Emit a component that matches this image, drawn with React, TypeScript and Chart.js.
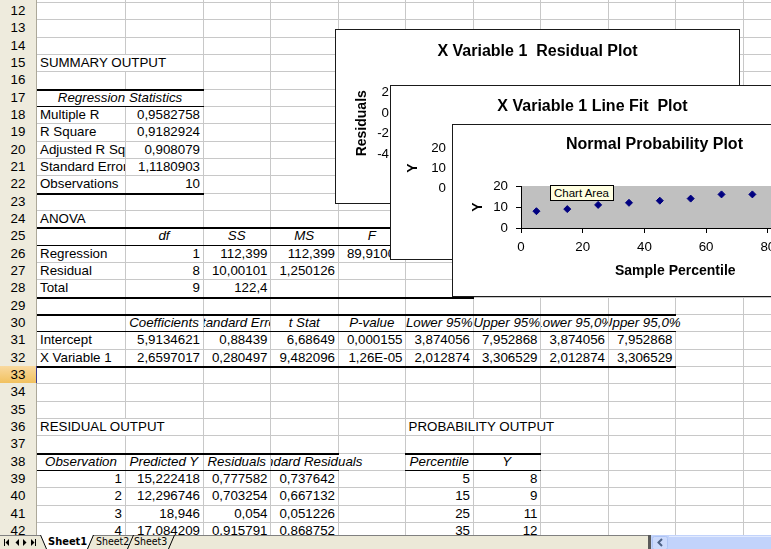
import React, { useEffect, useRef } from "react";
import { Chart, registerables } from "chart.js";

Chart.register(...registerables);

const FONT = "'Liberation Sans', Arial, Helvetica, sans-serif";
const TAB_FONT = "'DejaVu Sans Condensed', 'DejaVu Sans', Verdana, sans-serif";

// ---------------- chart data ----------------
const probPercentile = [5, 15, 25, 35, 45, 55, 65, 75];
const probY = [8, 9, 11, 12, 13, 14, 16, 16];
const observations = [1, 2, 3, 4];
const obsX = [3.5, 2.4, 4.9, 4.2];
const obsY = [16, 13, 19, 18];
const predictedY = [15.222418, 12.296746, 18.946, 17.084209];
const residuals = [0.777582, 0.703254, 0.054, 0.915791];
const stdResiduals = [0.737642, 0.667132, 0.051226, 0.868752];

const residXTicks = [0, 2, 4, 6];
const residYTicks = [-4, -2, 0, 2];
const fitXTicks = [0, 2, 4, 6];
const fitYTicks = [0, 10, 20];
const probXTicks = [0, 20, 40, 60, 80, 100];
const probYTicks = [0, 10, 20];

// ---------------- sheet text ----------------
const regStatLabels = ["Multiple R", "R Square", "Adjusted R Square", "Standard Error", "Observations"];
const regStatValues = ["0,9582758", "0,9182924", "0,908079", "1,1180903", "10"];
const anovaHeaders = ["df", "SS", "MS", "F", "Significance F"];
const anovaRows = [
  ["Regression", "1", "112,399", "112,399", "89,91004", "1,26E-05"],
  ["Residual", "8", "10,00101", "1,250126"],
  ["Total", "9", "122,4"],
];
const coefHeaders = ["Coefficients", "Standard Error", "t Stat", "P-value", "Lower 95%", "Upper 95%", "Lower 95,0%", "Upper 95,0%"];
const coefRows = [
  ["Intercept", "5,9134621", "0,88439", "6,68649", "0,000155", "3,874056", "7,952868", "3,874056", "7,952868"],
  ["X Variable 1", "2,6597017", "0,280497", "9,482096", "1,26E-05", "2,012874", "3,306529", "2,012874", "3,306529"],
];
const residHeaders = ["Observation", "Predicted Y", "Residuals", "Standard Residuals"];
const probHeaders = ["Percentile", "Y"];
const sheetTabs = ["Sheet1", "Sheet2", "Sheet3"];

// ---------------- sheet geometry ----------------
const COLS = [37, 125, 203, 270.5, 338, 405.5, 473, 540.5, 608, 675.5, 743, 810.5];
const NCOL = COLS.length - 1;
const ROW0 = 12;
const ROW_Y0 = 2.5;
const ROW_H = 17.333;
const ACTIVE_ROW = 33;
const GRID = "#C8C8C8";
const rowY = (r: number) => ROW_Y0 + (r - ROW0) * ROW_H;
const px = (v: number) => Math.floor(v);
const fmt = (v: number) => String(v).replace(".", ",");

type Cell = { r: number; c: number; t: string; a: "l" | "r" | "c"; i?: boolean; span?: number };
const cells: Cell[] = [];
const add = (r: number, c: number, t: string, a: "l" | "r" | "c", i?: boolean, span?: number) =>
  cells.push({ r, c, t, a, i, span });

add(15, 0, "SUMMARY OUTPUT", "l");
add(17, 0, "Regression Statistics", "c", true, 2);
regStatLabels.forEach((l, k) => {
  add(18 + k, 0, l, "l");
  add(18 + k, 1, regStatValues[k], "r");
});
add(24, 0, "ANOVA", "l");
anovaHeaders.forEach((h, k) => add(25, 1 + k, h, "c", true));
anovaRows.forEach((row, k) => row.forEach((v, j) => add(26 + k, j, v, j === 0 ? "l" : "r")));
coefHeaders.forEach((h, k) => add(30, 1 + k, h, "c", true));
coefRows.forEach((row, k) => row.forEach((v, j) => add(31 + k, j, v, j === 0 ? "l" : "r")));
add(36, 0, "RESIDUAL OUTPUT", "l");
add(36, 5, "PROBABILITY OUTPUT", "l");
residHeaders.forEach((h, k) => add(38, k, h, "c", true));
probHeaders.forEach((h, k) => add(38, 5 + k, h, "c", true));
observations.forEach((o, k) => {
  add(39 + k, 0, String(o), "r");
  add(39 + k, 1, fmt(predictedY[k]), "r");
  add(39 + k, 2, fmt(residuals[k]), "r");
  add(39 + k, 3, fmt(stdResiduals[k]), "r");
  add(39 + k, 5, String(probPercentile[k]), "r");
  add(39 + k, 6, String(probY[k]), "r");
});

const occ = new Set<string>();
cells.forEach((cl) => {
  for (let k = 0; k < (cl.span || 1); k++) occ.add(`${cl.r},${cl.c + k}`);
});

function clipFor(cl: Cell): [number, number] {
  const c0 = cl.c;
  const c1 = cl.c + (cl.span || 1);
  let L = COLS[c0];
  let R = COLS[c1];
  if (cl.a === "l" || cl.a === "c") {
    let k = c1;
    while (k < NCOL && !occ.has(`${cl.r},${k}`)) k++;
    R = COLS[k];
  }
  if (cl.a === "c") {
    let k = c0 - 1;
    while (k >= 0 && !occ.has(`${cl.r},${k}`)) k--;
    L = COLS[k + 1];
  }
  return [L, R];
}

let mctx: CanvasRenderingContext2D | null = null;
function measure(t: string, italic?: boolean) {
  if (!mctx) mctx = document.createElement("canvas").getContext("2d");
  if (!mctx) return t.length * 7;
  mctx.font = `${italic ? "italic " : ""}13.33px ${FONT}`;
  return mctx.measureText(t).width;
}

const borders = [
  { r: 17, c0: 0, c1: 2, w: 2 }, { r: 18, c0: 0, c1: 2, w: 1 }, { r: 23, c0: 0, c1: 2, w: 2 },
  { r: 25, c0: 0, c1: 6, w: 2 }, { r: 26, c0: 0, c1: 6, w: 1 }, { r: 29, c0: 0, c1: 6, w: 2 },
  { r: 30, c0: 0, c1: 9, w: 2 }, { r: 31, c0: 0, c1: 9, w: 1 }, { r: 33, c0: 0, c1: 9, w: 2 },
  { r: 38, c0: 0, c1: 4, w: 2 }, { r: 39, c0: 0, c1: 4, w: 1 },
  { r: 38, c0: 5, c1: 7, w: 2 }, { r: 39, c0: 5, c1: 7, w: 1 },
];

// ---------------- chart geometry ----------------
type Geo = {
  left: number; top: number; W: number; H: number;
  L: number; T: number; R: number; B: number;
  titleY: number; yTitleX: number; yLabelRight: number; xLabelY: number; xTitleY: number;
};
const geoResid: Geo = { left: 335, top: 29, W: 403, H: 173, L: 66, T: 62.5, R: 383, B: 124, titleY: 22, yTitleX: 26, yLabelRight: 53, xLabelY: 143, xTitleY: 157 };
const geoFit: Geo = { left: 390, top: 85, W: 403, H: 173, L: 68, T: 62, R: 383, B: 102, titleY: 21, yTitleX: 22, yLabelRight: 55, xLabelY: 121, xTitleY: 147 };
const geoProb: Geo = { left: 452, top: 124, W: 403, H: 171, L: 68, T: 61, R: 376.5, B: 103, titleY: 20, yTitleX: 25, yLabelRight: 55, xLabelY: 122, xTitleY: 146 };

const plotAreaFill = {
  id: "plotAreaFill",
  beforeDraw(chart: any) {
    const { ctx, chartArea: a } = chart;
    ctx.save();
    ctx.fillStyle = "#C0C0C0";
    ctx.fillRect(a.left, a.top, a.right - a.left, a.bottom - a.top);
    ctx.restore();
  },
};

function buildConfig(g: Geo, title: string, xTitle: string, yTitle: string, xTicks: number[], yTicks: number[], datasets: any[]): any {
  const titleLH = 16 * 1.2;
  const axisLH = 14 * 1.2;
  const tickLH = 13.33 * 1.2;
  const tickFont = { family: FONT, size: 13.33, lineHeight: 1.2 };
  const axisFont = { family: FONT, size: 14, weight: "bold", lineHeight: 1.2 };
  const grid = { display: true, drawOnChartArea: false, drawTicks: true, tickLength: 5, color: "#000", tickColor: "#000", lineWidth: 1 };
  const border = { display: true, color: "#000", width: 1 };
  const titleTop = g.titleY - titleLH / 2;
  return {
    type: "scatter",
    data: { datasets },
    plugins: [plotAreaFill],
    options: {
      animation: false,
      responsive: false,
      maintainAspectRatio: false,
      events: [],
      layout: { padding: 0 },
      plugins: {
        legend: { display: false },
        tooltip: { enabled: false },
        title: {
          display: true, text: title, color: "#000",
          font: { family: FONT, size: 16, weight: "bold", lineHeight: 1.2 },
          padding: { top: titleTop, bottom: g.T - titleTop - titleLH },
        },
      },
      scales: {
        x: {
          type: "linear", position: "bottom", min: xTicks[0], max: xTicks[xTicks.length - 1],
          ticks: { stepSize: xTicks[1] - xTicks[0], color: "#000", font: tickFont, padding: g.xLabelY - g.B - 5 - tickLH / 2, maxRotation: 0, autoSkip: false },
          grid, border,
          title: { display: true, text: xTitle, color: "#000", font: axisFont, padding: { top: 0, bottom: g.H - g.xTitleY - axisLH / 2 } },
          afterFit: (s: any) => { s.height = g.H - g.B; },
        },
        y: {
          type: "linear", position: "left", min: yTicks[0], max: yTicks[yTicks.length - 1],
          ticks: { stepSize: yTicks[1] - yTicks[0], color: "#000", font: tickFont, padding: g.L - 5 - g.yLabelRight },
          grid, border,
          title: { display: true, text: yTitle, color: "#000", font: axisFont, padding: { top: g.yTitleX - axisLH / 2, bottom: 0 } },
          afterFit: (s: any) => { s.width = g.L; },
        },
        pad: {
          type: "linear", position: "right", display: true,
          grid: { display: false }, border: { display: false }, ticks: { display: false },
          afterFit: (s: any) => { s.width = g.W - g.R; },
        },
      },
    },
  };
}

const navy = "#000080";
const markers = (label: string, xs: number[], ys: number[], color: string, style: string) => ({
  label,
  data: xs.map((x, i) => ({ x, y: ys[i] })),
  pointStyle: style,
  pointRadius: 3.5,
  pointBackgroundColor: color,
  pointBorderColor: color,
  borderColor: color,
  backgroundColor: color,
  showLine: false,
});

function ChartBox({ g, config }: { g: Geo; config: any }) {
  const ref = useRef<HTMLCanvasElement>(null);
  useEffect(() => {
    const chart = new Chart(ref.current as HTMLCanvasElement, config);
    return () => chart.destroy();
  }, []);
  return (
    <div style={{ position: "absolute", left: g.left, top: g.top, width: g.W + 2, height: g.H + 2, border: "1px solid #1a1a1a", boxSizing: "border-box", background: "#fff" }}>
      <canvas ref={ref} width={g.W} height={g.H} style={{ display: "block", width: g.W, height: g.H }} />
    </div>
  );
}

const cfgResid = buildConfig(geoResid, "X Variable 1  Residual Plot", "X Variable 1", "Residuals", residXTicks, residYTicks,
  [markers("Residuals", obsX, residuals, navy, "rectRot")]);
const cfgFit = buildConfig(geoFit, "X Variable 1 Line Fit  Plot", "X Variable 1", "Y", fitXTicks, fitYTicks,
  [markers("Y", obsX, obsY, navy, "rectRot"), markers("Predicted Y", obsX, predictedY, "#FF00FF", "rect")]);
const cfgProb = buildConfig(geoProb, "Normal Probability Plot", "Sample Percentile", "Y", probXTicks, probYTicks,
  [markers("Y", probPercentile, probY, navy, "rectRot")]);

function Sheet() {
  const els: React.ReactNode[] = [];
  for (let k = 1; k <= NCOL; k++) {
    els.push(<div key={"v" + k} style={{ position: "absolute", left: px(COLS[k]), top: 0, width: 1, height: 535, background: GRID }} />);
  }
  for (let r = ROW0; r <= 43; r++) {
    els.push(<div key={"h" + r} style={{ position: "absolute", left: 37, top: px(rowY(r)), width: 771 - 37, height: 1, background: GRID }} />);
  }
  for (let r = ROW0 - 1; r <= 42; r++) {
    const t = px(rowY(r));
    const b = px(rowY(r + 1));
    const active = r === ACTIVE_ROW;
    els.push(
      <div key={"rh" + r} style={{
        position: "absolute", left: 0, top: t, width: 37, height: b - t + 1, boxSizing: "border-box",
        background: active ? "linear-gradient(#F9D99F, #F1C15F)" : "#EEEBDD",
        borderBottom: "1px solid " + (active ? "#D6A94A" : "#C5C2B2"),
        borderRight: "1px solid " + (active ? "#3B3B8E" : "#ACA899"),
        font: `13.33px ${FONT}`, color: "#000", textAlign: "center", lineHeight: (b - t) + "px",
      }}>{r >= ROW0 ? r : ""}</div>
    );
  }
  cells.forEach((cl, idx) => {
    const [cL, cR] = clipFor(cl);
    const top = px(rowY(cl.r)) + 1;
    const h = px(rowY(cl.r + 1)) - top;
    const boxL = px(cL) + 1;
    const boxR = px(cR);
    const w = measure(cl.t, cl.i);
    const own0 = COLS[cl.c];
    const own1 = COLS[cl.c + (cl.span || 1)];
    let x0: number;
    if (cl.a === "l") x0 = own0 + 3;
    else if (cl.a === "r") x0 = own1 - 3 - w;
    else x0 = (own0 + own1) / 2 - w / 2;
    els.push(
      <div key={"t" + idx} style={{ position: "absolute", left: boxL, top, width: boxR - boxL, height: h, overflow: "hidden" }}>
        <span style={{
          position: "absolute", left: x0 - boxL, top: 0, height: h, lineHeight: h + "px", background: "#fff",
          whiteSpace: "pre", font: `${cl.i ? "italic " : ""}13.33px ${FONT}`, color: "#000",
        }}>{cl.t}</span>
      </div>
    );
  });
  borders.forEach((bd, k) => {
    const y = px(rowY(bd.r));
    const l = px(COLS[bd.c0]);
    const r = px(COLS[bd.c1]);
    els.push(<div key={"b" + k} style={{ position: "absolute", left: l, top: y, width: r - l + 1, height: bd.w, background: "#000" }} />);
  });
  return <>{els}</>;
}

function TabBar() {
  return (
    <div style={{ position: "absolute", left: 0, top: 535, width: 771, height: 14 }}>
      <svg width={771} height={14} style={{ position: "absolute", left: 0, top: 0 }}>
        <rect x={0} y={0} width={649} height={14} fill="#ECE9D8" />
        <line x1={0} y1={0.5} x2={41} y2={0.5} stroke="#808080" />
        <line x1={92} y1={0.5} x2={649} y2={0.5} stroke="#808080" />
        <rect x={4} y={4} width={1} height={7} fill="#000" />
        <polygon points="9,4 9,11 5.5,7.5" fill="#000" />
        <polygon points="19,4 19,11 15.5,7.5" fill="#000" />
        <polygon points="23,4 23,11 26.5,7.5" fill="#000" />
        <polygon points="31,4 31,11 34.5,7.5" fill="#000" />
        <rect x={35} y={4} width={1} height={7} fill="#000" />
        <polygon points="40,0 46,14 87,14 93,0" fill="#fff" />
        <line x1={40.5} y1={0} x2={46.5} y2={14} stroke="#000" />
        <line x1={87.5} y1={14} x2={93.5} y2={0} stroke="#000" />
        <line x1={127.5} y1={14} x2={133.5} y2={0} stroke="#000" />
        <line x1={168.5} y1={14} x2={174.5} y2={0} stroke="#000" />
        <rect x={648} y={0} width={3} height={14} fill="#5A5A5A" />
        <rect x={651} y={0} width={120} height={14} fill="#C2D3FB" />
        <rect x={652.5} y={1.5} width={15} height={13} rx={2} fill="#CCDAFC" stroke="#AFC4F4" />
        <polyline points="662,4 658.5,7.5 662,11" fill="none" stroke="#4D6185" strokeWidth={2} />
        <line x1={669} y1={1.5} x2={771} y2={1.5} stroke="#E2EAFE" />
      </svg>
      <span style={{ position: "absolute", left: 48, top: 0, lineHeight: "14px", font: `bold 11px ${TAB_FONT}`, color: "#000" }}>{sheetTabs[0]}</span>
      <span style={{ position: "absolute", left: 96, top: 0, lineHeight: "14px", font: `10.5px ${TAB_FONT}`, color: "#000" }}>{sheetTabs[1]}</span>
      <span style={{ position: "absolute", left: 134, top: 0, lineHeight: "14px", font: `10.5px ${TAB_FONT}`, color: "#000" }}>{sheetTabs[2]}</span>
    </div>
  );
}

export default function App() {
  return (
    <div style={{ position: "fixed", left: 0, top: 0, width: 771, height: 549, overflow: "hidden", background: "#fff" }}>
      <Sheet />
      <ChartBox g={geoResid} config={cfgResid} />
      <ChartBox g={geoFit} config={cfgFit} />
      <ChartBox g={geoProb} config={cfgProb} />
      <div style={{
        position: "absolute", left: 550, top: 185, width: 64, height: 16, boxSizing: "border-box",
        border: "1px solid #000", background: "#FFFFE1", font: `11.5px ${FONT}`, color: "#000",
        lineHeight: "14px", paddingLeft: 3, whiteSpace: "nowrap",
      }}>Chart Area</div>
      <TabBar />
    </div>
  );
}
